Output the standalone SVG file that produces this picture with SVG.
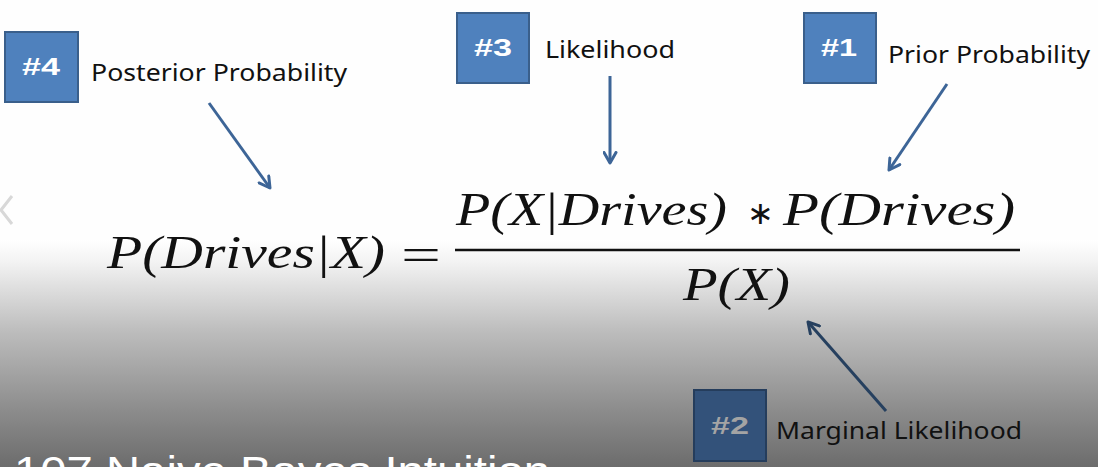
<svg xmlns="http://www.w3.org/2000/svg" width="1098" height="467" viewBox="0 0 1098 467">
<defs>
<linearGradient id="bg" x1="0" y1="0" x2="0" y2="1">
<stop offset="0" stop-color="#ffffff"/>
<stop offset="0.1" stop-color="#f2f2f2"/>
<stop offset="0.4" stop-color="#bdbdbd"/>
<stop offset="0.75" stop-color="#8c8c8c"/>
<stop offset="1" stop-color="#6c6c6c"/>
</linearGradient>
<marker id="ah1" viewBox="0 0 10 10" refX="8" refY="5" markerWidth="5" markerHeight="5" orient="auto" markerUnits="strokeWidth">
<polyline points="1,1 8,5 1,9" fill="none" stroke="#3d6597" stroke-width="2" stroke-linecap="round" stroke-linejoin="round"/>
</marker>
<marker id="ah2" viewBox="0 0 10 10" refX="8" refY="5" markerWidth="5" markerHeight="5" orient="auto" markerUnits="strokeWidth">
<polyline points="1,1 8,5 1,9" fill="none" stroke="#26405f" stroke-width="2" stroke-linecap="round" stroke-linejoin="round"/>
</marker>
</defs>
<style>
.box{fill:#4f81bd;stroke:#3a5f8b;stroke-width:2}
.num{font-family:"Liberation Sans",Arial,sans-serif;font-weight:bold;font-size:24px;fill:#ffffff}
.lbl{font-family:"Noto Sans","Open Sans",sans-serif;font-size:23px;fill:#111111}
.arr{stroke:#3d6597;stroke-width:3;fill:none;marker-end:url(#ah1)}
.math{font-family:"Liberation Serif","Times New Roman",serif;font-style:italic;font-size:46px;fill:#111111}
.op{font-family:"Liberation Serif","Times New Roman",serif;font-size:46px;fill:#111111}
.ast{font-family:"DejaVu Sans",sans-serif;font-style:normal;font-size:32px}
</style>
<rect x="0" y="0" width="1098" height="467" fill="#fefefe"/>
<rect x="0" y="240" width="1098" height="227" fill="url(#bg)"/>
<polyline points="12,196 1,210 12,224" fill="none" stroke="#d8d8d8" stroke-width="3"/>

<g id="node4">
<rect class="box" x="5" y="32" width="73" height="70"/>
<text class="num" x="22" y="75" textLength="38" lengthAdjust="spacingAndGlyphs">#4</text>
<text class="lbl" x="91" y="81" textLength="256" lengthAdjust="spacingAndGlyphs">Posterior Probability</text>
</g>
<g id="node3">
<rect class="box" x="457" y="13" width="72" height="70"/>
<text class="num" x="474" y="56" textLength="38" lengthAdjust="spacingAndGlyphs">#3</text>
<text class="lbl" x="545" y="58" textLength="130" lengthAdjust="spacingAndGlyphs">Likelihood</text>
</g>
<g id="node1">
<rect class="box" x="804" y="13" width="72" height="70"/>
<text class="num" x="821" y="56" textLength="36" lengthAdjust="spacingAndGlyphs">#1</text>
<text class="lbl" x="888" y="63" textLength="202" lengthAdjust="spacingAndGlyphs">Prior Probability</text>
</g>
<g id="node2">
<rect x="694" y="390" width="72" height="71" fill="#33527a" stroke="#253d5c" stroke-width="2"/>
<text class="num" x="711" y="434" textLength="38" lengthAdjust="spacingAndGlyphs" style="fill:#a4a4a4">#2</text>
<text class="lbl" x="776" y="439" textLength="246" lengthAdjust="spacingAndGlyphs">Marginal Likelihood</text>
</g>

<g id="formula">
<text class="math" x="107" y="268" textLength="278" lengthAdjust="spacingAndGlyphs">P(Drives|X)</text>
<text class="op" x="401" y="270" font-size="56" textLength="40" lengthAdjust="spacingAndGlyphs">=</text>
<text class="math" x="456" y="225" textLength="271" lengthAdjust="spacingAndGlyphs">P(X|Drives)</text>
<text class="ast" x="747" y="224" fill="#111111">∗</text>
<text class="math" x="783" y="225" textLength="232" lengthAdjust="spacingAndGlyphs">P(Drives)</text>
<line x1="455" y1="250" x2="1020" y2="250" stroke="#111111" stroke-width="2.5"/>
<text class="math" x="683" y="300" textLength="107" lengthAdjust="spacingAndGlyphs">P(X)</text>
</g>

<g id="connectors">
<line class="arr" x1="209" y1="103" x2="270" y2="188"/>
<line class="arr" x1="610" y1="76" x2="610" y2="163"/>
<line class="arr" x1="947" y1="84" x2="889" y2="170"/>
<line x1="886" y1="411" x2="808" y2="322" stroke="#26405f" stroke-width="3" marker-end="url(#ah2)"/>
</g>

<text x="14" y="486" font-family="Liberation Sans,Arial,sans-serif" font-size="42" fill="#ffffff" textLength="536" lengthAdjust="spacingAndGlyphs">107 Naive Bayes Intuition</text>
</svg>
